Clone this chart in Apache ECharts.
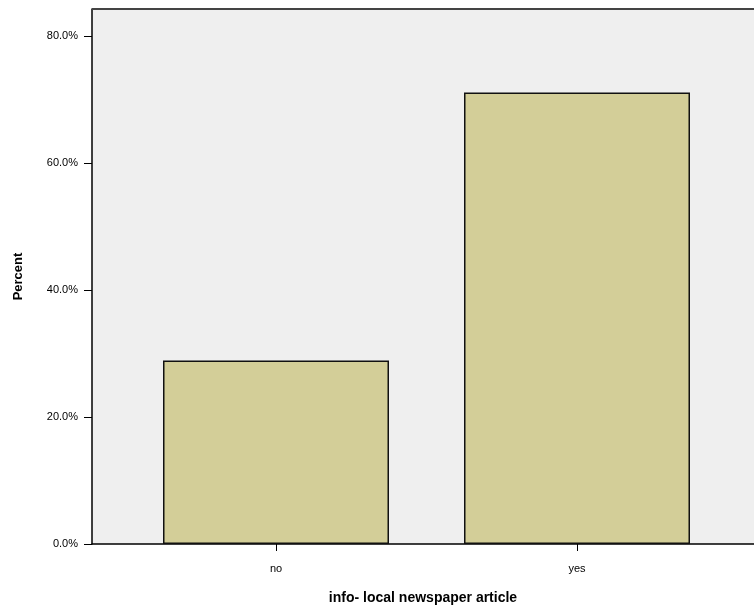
<!DOCTYPE html>
<html>
<head>
<meta charset="utf-8">
<script src="https://cdn.jsdelivr.net/npm/echarts@6/dist/echarts.min.js"></script>
<style>html,body{margin:0;padding:0;background:#fff}#c{width:754px;height:615px}</style>
</head>
<body>
<div id="c"></div>
<script>
var categories = ['no', 'yes'];
var percentValues = [28.9, 71.1];
var yTickValues = [0, 20, 40, 60, 80];
var xTitle = 'info- local newspaper article';
var yTitle = 'Percent';

var chart = echarts.init(document.getElementById('c'), null, {renderer: 'canvas'});
var font = 'Arial, "Liberation Sans", sans-serif';
var yMax = 84.25;
chart.setOption({
  animation: false,
  grid: [
    {left: 92, right: 0, top: 9, bottom: 71, show: true, backgroundColor: '#efefef', borderWidth: 0},
    {left: 125.5, right: 26.5, top: 9, bottom: 71}
  ],
  xAxis: [
    {type: 'value', gridIndex: 0, min: 0, max: 1, axisLine: {show: true, onZero: false, lineStyle: {color: '#000', width: 1.5}},
     axisTick: {show: false}, axisLabel: {show: false}, splitLine: {show: false},
     name: xTitle, nameLocation: 'middle', nameGap: 47,
     nameTextStyle: {fontFamily: font, fontWeight: 'bold', fontSize: 14, color: '#000'}},
    {type: 'category', gridIndex: 1, data: categories, boundaryGap: true,
     axisLine: {show: false}, axisTick: {show: true, alignWithLabel: true, length: 7, lineStyle: {color: '#000', width: 1}},
     axisLabel: {fontFamily: font, fontSize: 11, color: '#000', margin: 19}}
  ],
  yAxis: [
    {type: 'value', gridIndex: 0, min: 0, max: yMax,
     axisLine: {show: true, lineStyle: {color: '#000', width: 1.5}},
     axisTick: {show: true, length: 8, customValues: yTickValues, lineStyle: {color: '#000', width: 1}},
     axisLabel: {customValues: yTickValues, fontFamily: font, fontSize: 11, color: '#000', margin: 14,
       formatter: function (v) { return v.toFixed(1) + '%'; }},
     splitLine: {show: false},
     name: yTitle, nameLocation: 'middle', nameGap: 67,
     nameTextStyle: {fontFamily: font, fontWeight: 'bold', fontSize: 13, color: '#000'}},
    {type: 'value', gridIndex: 1, min: 0, max: yMax, show: false, splitLine: {show: false}}
  ],
  graphic: [{
    type: 'line', shape: {x1: 92, y1: 9, x2: 754, y2: 9}, style: {stroke: '#444', lineWidth: 2}, z: 10
  }],
  series: [{
    type: 'bar', xAxisIndex: 1, yAxisIndex: 1, data: percentValues, barWidth: 226,
    itemStyle: {color: '#d3ce98', borderColor: '#111', borderWidth: 1.5}
  }]
});
</script>
</body>
</html>
